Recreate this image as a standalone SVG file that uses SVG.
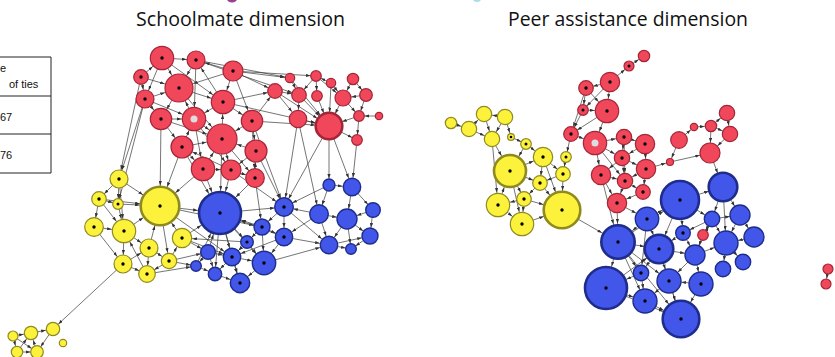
<svg xmlns="http://www.w3.org/2000/svg" width="835" height="357" viewBox="0 0 835 357">
<style>
.R{fill:#F1475B;stroke:#A52537;stroke-width:1.2}
.Y{fill:#FCF23C;stroke:#8F8A1E;stroke-width:1.2}
.B{fill:#4257E9;stroke:#1E2C8C;stroke-width:1.4}
.k{stroke-width:2.6}
.d{fill:#000}
.g{fill:#DDDDDD}
#edges line{stroke:#3a3a3a;stroke-width:0.7;fill:none}
.tab{stroke:#222;stroke-width:1}
.tt{font-family:"Liberation Sans",Arial,sans-serif;font-size:11px;fill:#111}
.ti{font-family:"Open Sans","Noto Sans",sans-serif;font-size:20px;fill:#111}
.m4{marker-end:url(#a4)}.m5{marker-end:url(#a5)}.m6{marker-end:url(#a6)}.m7{marker-end:url(#a7)}
.m8{marker-end:url(#a8)}.m9{marker-end:url(#a9)}.m10{marker-end:url(#a10)}.m11{marker-end:url(#a11)}
.m12{marker-end:url(#a12)}.m13{marker-end:url(#a13)}.m14{marker-end:url(#a14)}.m15{marker-end:url(#a15)}
.m16{marker-end:url(#a16)}.m17{marker-end:url(#a17)}.m18{marker-end:url(#a18)}.m19{marker-end:url(#a19)}.m21{marker-end:url(#a21)}
</style>
<defs>
<path id="ah" d="M0,0 L4.5,1.6 L0,3.2z" fill="#333"/>
<marker id="a4" markerUnits="userSpaceOnUse" markerWidth="5" markerHeight="3.2" refX="9" refY="1.6" orient="auto"><use href="#ah"/></marker>
<marker id="a5" markerUnits="userSpaceOnUse" markerWidth="5" markerHeight="3.2" refX="10" refY="1.6" orient="auto"><use href="#ah"/></marker>
<marker id="a6" markerUnits="userSpaceOnUse" markerWidth="5" markerHeight="3.2" refX="11" refY="1.6" orient="auto"><use href="#ah"/></marker>
<marker id="a7" markerUnits="userSpaceOnUse" markerWidth="5" markerHeight="3.2" refX="12" refY="1.6" orient="auto"><use href="#ah"/></marker>
<marker id="a8" markerUnits="userSpaceOnUse" markerWidth="5" markerHeight="3.2" refX="13" refY="1.6" orient="auto"><use href="#ah"/></marker>
<marker id="a9" markerUnits="userSpaceOnUse" markerWidth="5" markerHeight="3.2" refX="14" refY="1.6" orient="auto"><use href="#ah"/></marker>
<marker id="a10" markerUnits="userSpaceOnUse" markerWidth="5" markerHeight="3.2" refX="15" refY="1.6" orient="auto"><use href="#ah"/></marker>
<marker id="a11" markerUnits="userSpaceOnUse" markerWidth="5" markerHeight="3.2" refX="16" refY="1.6" orient="auto"><use href="#ah"/></marker>
<marker id="a12" markerUnits="userSpaceOnUse" markerWidth="5" markerHeight="3.2" refX="17" refY="1.6" orient="auto"><use href="#ah"/></marker>
<marker id="a13" markerUnits="userSpaceOnUse" markerWidth="5" markerHeight="3.2" refX="18.5" refY="1.6" orient="auto"><use href="#ah"/></marker>
<marker id="a14" markerUnits="userSpaceOnUse" markerWidth="5" markerHeight="3.2" refX="19.5" refY="1.6" orient="auto"><use href="#ah"/></marker>
<marker id="a15" markerUnits="userSpaceOnUse" markerWidth="5" markerHeight="3.2" refX="20.5" refY="1.6" orient="auto"><use href="#ah"/></marker>
<marker id="a16" markerUnits="userSpaceOnUse" markerWidth="5" markerHeight="3.2" refX="22" refY="1.6" orient="auto"><use href="#ah"/></marker>
<marker id="a17" markerUnits="userSpaceOnUse" markerWidth="5" markerHeight="3.2" refX="23" refY="1.6" orient="auto"><use href="#ah"/></marker>
<marker id="a18" markerUnits="userSpaceOnUse" markerWidth="5" markerHeight="3.2" refX="24" refY="1.6" orient="auto"><use href="#ah"/></marker>
<marker id="a19" markerUnits="userSpaceOnUse" markerWidth="5" markerHeight="3.2" refX="25" refY="1.6" orient="auto"><use href="#ah"/></marker>
<marker id="a21" markerUnits="userSpaceOnUse" markerWidth="5" markerHeight="3.2" refX="27" refY="1.6" orient="auto"><use href="#ah"/></marker>
</defs>
<rect width="835" height="357" fill="#fff"/>
<ellipse cx="232" cy="-1" rx="5" ry="3.5" fill="#9A3E96"/>
<ellipse cx="477" cy="-1" rx="4" ry="3" fill="#A8DCEA"/>
<text class="ti" x="136" y="26" textLength="209" lengthAdjust="spacingAndGlyphs">Schoolmate dimension</text>
<text class="ti" x="508" y="26" textLength="240" lengthAdjust="spacingAndGlyphs">Peer assistance dimension</text>
<g id="table">
<line class="tab" x1="0" y1="57" x2="51" y2="57"/>
<line class="tab" x1="0" y1="96" x2="51" y2="96"/>
<line class="tab" x1="0" y1="134" x2="51" y2="134"/>
<line class="tab" x1="0" y1="173" x2="51" y2="173"/>
<line class="tab" x1="51" y1="57" x2="51" y2="173"/>
<text class="tt" x="0" y="72">e</text>
<text class="tt" x="9" y="88">of ties</text>
<text class="tt" x="0" y="121">67</text>
<text class="tt" x="0" y="159">76</text>
</g>
<g id="edges">
<line class="m9" x1="162" y1="58" x2="196" y2="60"/>
<line class="m12" x1="141" y1="77" x2="162" y2="58"/>
<line class="m14" x1="162" y1="58" x2="179" y2="88"/>
<line class="m14" x1="196" y1="60" x2="179" y2="88"/>
<line class="m9" x1="233" y1="71" x2="196" y2="60"/>
<line class="m14" x1="233" y1="71" x2="179" y2="88"/>
<line class="m14" x1="141" y1="77" x2="179" y2="88"/>
<line class="m9" x1="141" y1="77" x2="145" y2="99"/>
<line class="m14" x1="145" y1="99" x2="179" y2="88"/>
<line class="m11" x1="145" y1="99" x2="161" y2="119"/>
<line class="m11" x1="179" y1="88" x2="161" y2="119"/>
<line class="m14" x1="194" y1="119" x2="179" y2="88"/>
<line class="m12" x1="179" y1="88" x2="223" y2="102"/>
<line class="m12" x1="233" y1="71" x2="223" y2="102"/>
<line class="m9" x1="223" y1="102" x2="196" y2="60"/>
<line class="m12" x1="223" y1="102" x2="194" y2="119"/>
<line class="m12" x1="222" y1="139" x2="223" y2="102"/>
<line class="m12" x1="161" y1="119" x2="194" y2="119"/>
<line class="m11" x1="161" y1="119" x2="182" y2="147"/>
<line class="m15" x1="194" y1="119" x2="222" y2="139"/>
<line class="m12" x1="182" y1="147" x2="194" y2="119"/>
<line class="m15" x1="182" y1="147" x2="222" y2="139"/>
<line class="m12" x1="182" y1="147" x2="203" y2="169"/>
<line class="m15" x1="203" y1="169" x2="222" y2="139"/>
<line class="m10" x1="222" y1="139" x2="231" y2="170"/>
<line class="m15" x1="256" y1="151" x2="222" y2="139"/>
<line class="m15" x1="252" y1="121" x2="222" y2="139"/>
<line class="m11" x1="223" y1="102" x2="252" y2="121"/>
<line class="m11" x1="252" y1="121" x2="256" y2="151"/>
<line class="m11" x1="255" y1="178" x2="256" y2="151"/>
<line class="m9" x1="231" y1="170" x2="255" y2="178"/>
<line class="m10" x1="203" y1="169" x2="231" y2="170"/>
<line class="m9" x1="222" y1="139" x2="255" y2="178"/>
<line class="m12" x1="194" y1="119" x2="203" y2="169"/>
<line class="m15" x1="161" y1="119" x2="222" y2="139"/>
<line class="m11" x1="231" y1="170" x2="182" y2="147"/>
<line class="m15" x1="179" y1="88" x2="222" y2="139"/>
<line class="m11" x1="233" y1="71" x2="252" y2="121"/>
<line class="m12" x1="162" y1="58" x2="223" y2="102"/>
<line class="m12" x1="196" y1="60" x2="194" y2="119"/>
<line class="m10" x1="256" y1="151" x2="231" y2="170"/>
<line class="m10" x1="194" y1="119" x2="231" y2="170"/>
<line class="m9" x1="252" y1="121" x2="255" y2="178"/>
<line class="m12" x1="145" y1="99" x2="194" y2="119"/>
<line class="m9" x1="162" y1="58" x2="145" y2="99"/>
<line class="m5" x1="233" y1="71" x2="290" y2="78"/>
<line class="m5" x1="233" y1="71" x2="316" y2="76"/>
<line class="m7" x1="196" y1="60" x2="299" y2="95"/>
<line class="m7" x1="223" y1="102" x2="275" y2="91"/>
<line class="m7" x1="252" y1="121" x2="275" y2="91"/>
<line class="m13" x1="223" y1="102" x2="329" y2="126"/>
<line class="m13" x1="252" y1="121" x2="329" y2="126"/>
<line class="m13" x1="275" y1="91" x2="329" y2="126"/>
<line class="m7" x1="275" y1="91" x2="299" y2="95"/>
<line class="m9" x1="275" y1="91" x2="298" y2="119"/>
<line class="m7" x1="290" y1="78" x2="299" y2="95"/>
<line class="m7" x1="316" y1="76" x2="299" y2="95"/>
<line class="m5" x1="316" y1="76" x2="317" y2="96"/>
<line class="m5" x1="331" y1="83" x2="316" y2="76"/>
<line class="m8" x1="331" y1="83" x2="343" y2="98"/>
<line class="m8" x1="353" y1="79" x2="343" y2="98"/>
<line class="m6" x1="353" y1="79" x2="366" y2="95"/>
<line class="m8" x1="366" y1="95" x2="343" y2="98"/>
<line class="m13" x1="299" y1="95" x2="329" y2="126"/>
<line class="m13" x1="317" y1="96" x2="329" y2="126"/>
<line class="m13" x1="343" y1="98" x2="329" y2="126"/>
<line class="m13" x1="298" y1="119" x2="329" y2="126"/>
<line class="m5" x1="366" y1="95" x2="359" y2="116"/>
<line class="m13" x1="359" y1="116" x2="329" y2="126"/>
<line class="m5" x1="379" y1="116" x2="359" y2="116"/>
<line class="m5" x1="359" y1="116" x2="357" y2="140"/>
<line class="m5" x1="329" y1="126" x2="357" y2="140"/>
<line class="m13" x1="290" y1="78" x2="329" y2="126"/>
<line class="m13" x1="331" y1="83" x2="329" y2="126"/>
<line class="m9" x1="299" y1="95" x2="298" y2="119"/>
<line class="m5" x1="343" y1="98" x2="359" y2="116"/>
<line class="m8" x1="316" y1="76" x2="343" y2="98"/>
<line class="m7" x1="233" y1="71" x2="275" y2="91"/>
<line class="m5" x1="196" y1="60" x2="290" y2="78"/>
<line class="m6" x1="329" y1="126" x2="329" y2="185"/>
<line class="m9" x1="357" y1="140" x2="352" y2="187"/>
<line class="m9" x1="329" y1="126" x2="352" y2="187"/>
<line class="m9" x1="298" y1="119" x2="284" y2="207"/>
<line class="m9" x1="329" y1="126" x2="284" y2="207"/>
<line class="m9" x1="298" y1="119" x2="319" y2="214"/>
<line class="m9" x1="141" y1="77" x2="119" y2="179"/>
<line class="m9" x1="145" y1="99" x2="119" y2="179"/>
<line class="m19" x1="161" y1="119" x2="160" y2="206"/>
<line class="m19" x1="182" y1="147" x2="160" y2="206"/>
<line class="m5" x1="145" y1="99" x2="118" y2="204"/>
<line class="m21" x1="203" y1="169" x2="220" y2="213"/>
<line class="m21" x1="231" y1="170" x2="220" y2="213"/>
<line class="m21" x1="255" y1="178" x2="220" y2="213"/>
<line class="m21" x1="222" y1="139" x2="220" y2="213"/>
<line class="m9" x1="256" y1="151" x2="284" y2="207"/>
<line class="m8" x1="255" y1="178" x2="262" y2="227"/>
<line class="m9" x1="231" y1="170" x2="284" y2="207"/>
<line class="m9" x1="252" y1="121" x2="284" y2="207"/>
<line class="m21" x1="182" y1="147" x2="220" y2="213"/>
<line class="m19" x1="203" y1="169" x2="160" y2="206"/>
<line class="m7" x1="119" y1="179" x2="99" y2="199"/>
<line class="m5" x1="119" y1="179" x2="118" y2="204"/>
<line class="m19" x1="119" y1="179" x2="160" y2="206"/>
<line class="m5" x1="99" y1="199" x2="118" y2="204"/>
<line class="m9" x1="99" y1="199" x2="94" y2="227"/>
<line class="m12" x1="99" y1="199" x2="124" y2="231"/>
<line class="m12" x1="118" y1="204" x2="124" y2="231"/>
<line class="m19" x1="118" y1="204" x2="160" y2="206"/>
<line class="m12" x1="94" y1="227" x2="124" y2="231"/>
<line class="m9" x1="94" y1="227" x2="123" y2="264"/>
<line class="m19" x1="124" y1="231" x2="160" y2="206"/>
<line class="m9" x1="124" y1="231" x2="149" y2="248"/>
<line class="m9" x1="124" y1="231" x2="123" y2="264"/>
<line class="m12" x1="147" y1="274" x2="124" y2="231"/>
<line class="m19" x1="149" y1="248" x2="160" y2="206"/>
<line class="m8" x1="149" y1="248" x2="169" y2="261"/>
<line class="m8" x1="149" y1="248" x2="147" y2="274"/>
<line class="m10" x1="169" y1="261" x2="182" y2="238"/>
<line class="m19" x1="182" y1="238" x2="160" y2="206"/>
<line class="m8" x1="123" y1="264" x2="147" y2="274"/>
<line class="m8" x1="169" y1="261" x2="147" y2="274"/>
<line class="m8" x1="160" y1="206" x2="169" y2="261"/>
<line class="m9" x1="123" y1="264" x2="149" y2="248"/>
<line class="m19" x1="99" y1="199" x2="160" y2="206"/>
<line class="m12" x1="119" y1="179" x2="124" y2="231"/>
<line class="m7" x1="123" y1="264" x2="53" y2="329"/>
<line class="m21" x1="160" y1="206" x2="220" y2="213"/>
<line class="m21" x1="182" y1="238" x2="220" y2="213"/>
<line class="m7" x1="182" y1="238" x2="208" y2="252"/>
<line class="m5" x1="169" y1="261" x2="196" y2="266"/>
<line class="m10" x1="247" y1="242" x2="182" y2="238"/>
<line class="m8" x1="160" y1="206" x2="262" y2="227"/>
<line class="m5" x1="147" y1="274" x2="196" y2="266"/>
<line class="m9" x1="160" y1="206" x2="232" y2="257"/>
<line class="m7" x1="169" y1="261" x2="208" y2="252"/>
<line class="m9" x1="182" y1="238" x2="232" y2="257"/>
<line class="m9" x1="220" y1="213" x2="284" y2="207"/>
<line class="m21" x1="262" y1="227" x2="220" y2="213"/>
<line class="m6" x1="220" y1="213" x2="247" y2="242"/>
<line class="m21" x1="208" y1="252" x2="220" y2="213"/>
<line class="m9" x1="220" y1="213" x2="232" y2="257"/>
<line class="m21" x1="284" y1="237" x2="220" y2="213"/>
<line class="m12" x1="220" y1="213" x2="264" y2="263"/>
<line class="m21" x1="196" y1="266" x2="220" y2="213"/>
<line class="m7" x1="220" y1="213" x2="215" y2="274"/>
<line class="m10" x1="220" y1="213" x2="240" y2="283"/>
<line class="m8" x1="284" y1="207" x2="262" y2="227"/>
<line class="m9" x1="284" y1="207" x2="284" y2="237"/>
<line class="m9" x1="319" y1="214" x2="284" y2="207"/>
<line class="m9" x1="329" y1="185" x2="284" y2="207"/>
<line class="m9" x1="262" y1="227" x2="284" y2="237"/>
<line class="m6" x1="262" y1="227" x2="247" y2="242"/>
<line class="m12" x1="284" y1="237" x2="264" y2="263"/>
<line class="m9" x1="247" y1="242" x2="232" y2="257"/>
<line class="m12" x1="232" y1="257" x2="264" y2="263"/>
<line class="m10" x1="232" y1="257" x2="240" y2="283"/>
<line class="m5" x1="208" y1="252" x2="196" y2="266"/>
<line class="m9" x1="208" y1="252" x2="232" y2="257"/>
<line class="m7" x1="196" y1="266" x2="215" y2="274"/>
<line class="m10" x1="215" y1="274" x2="240" y2="283"/>
<line class="m10" x1="264" y1="263" x2="240" y2="283"/>
<line class="m9" x1="284" y1="237" x2="232" y2="257"/>
<line class="m9" x1="284" y1="237" x2="329" y2="245"/>
<line class="m10" x1="319" y1="214" x2="347" y2="219"/>
<line class="m9" x1="319" y1="214" x2="329" y2="245"/>
<line class="m9" x1="329" y1="185" x2="352" y2="187"/>
<line class="m9" x1="329" y1="185" x2="319" y2="214"/>
<line class="m10" x1="352" y1="187" x2="347" y2="219"/>
<line class="m7" x1="352" y1="187" x2="373" y2="210"/>
<line class="m10" x1="373" y1="210" x2="347" y2="219"/>
<line class="m9" x1="347" y1="219" x2="329" y2="245"/>
<line class="m8" x1="347" y1="219" x2="370" y2="236"/>
<line class="m5" x1="347" y1="219" x2="351" y2="249"/>
<line class="m8" x1="373" y1="210" x2="370" y2="236"/>
<line class="m5" x1="329" y1="245" x2="351" y2="249"/>
<line class="m5" x1="370" y1="236" x2="351" y2="249"/>
<line class="m9" x1="319" y1="214" x2="284" y2="237"/>
<line class="m9" x1="284" y1="207" x2="329" y2="245"/>
<line class="m9" x1="264" y1="263" x2="329" y2="245"/>
<line class="m7" x1="232" y1="257" x2="215" y2="274"/>
<line class="m7" x1="208" y1="252" x2="215" y2="274"/>
<line class="m12" x1="247" y1="242" x2="264" y2="263"/>
<line class="m12" x1="262" y1="227" x2="264" y2="263"/>
<line class="m8" x1="329" y1="245" x2="370" y2="236"/>
<line class="m9" x1="262" y1="227" x2="232" y2="257"/>
<line class="m7" x1="31" y1="333" x2="53" y2="329"/>
<line class="m7" x1="13" y1="336" x2="31" y2="333"/>
<line class="m7" x1="17" y1="352" x2="31" y2="333"/>
<line class="m7" x1="37" y1="352" x2="31" y2="333"/>
<line class="m6" x1="53" y1="329" x2="37" y2="352"/>
<line class="m6" x1="13" y1="336" x2="37" y2="352"/>
<line class="m6" x1="17" y1="352" x2="37" y2="352"/>
<line class="m6" x1="13" y1="336" x2="17" y2="352"/>
<line class="m8" x1="451" y1="123" x2="469" y2="129"/>
<line class="m8" x1="469" y1="129" x2="484" y2="114"/>
<line class="m8" x1="505" y1="117" x2="484" y2="114"/>
<line class="m8" x1="469" y1="129" x2="492" y2="139"/>
<line class="m8" x1="484" y1="114" x2="492" y2="139"/>
<line class="m8" x1="505" y1="117" x2="492" y2="139"/>
<line class="m16" x1="492" y1="139" x2="510" y2="171"/>
<line class="m5" x1="511" y1="137" x2="526" y2="144"/>
<line class="m16" x1="526" y1="144" x2="510" y2="171"/>
<line class="m10" x1="526" y1="144" x2="543" y2="157"/>
<line class="m16" x1="498" y1="205" x2="510" y2="171"/>
<line class="m7" x1="510" y1="171" x2="524" y2="199"/>
<line class="m12" x1="510" y1="171" x2="522" y2="224"/>
<line class="m7" x1="543" y1="157" x2="540" y2="183"/>
<line class="m18" x1="543" y1="157" x2="562" y2="210"/>
<line class="m7" x1="543" y1="157" x2="563" y2="174"/>
<line class="m7" x1="566" y1="157" x2="563" y2="174"/>
<line class="m18" x1="563" y1="174" x2="562" y2="210"/>
<line class="m18" x1="540" y1="183" x2="562" y2="210"/>
<line class="m7" x1="540" y1="183" x2="524" y2="199"/>
<line class="m12" x1="524" y1="199" x2="498" y2="205"/>
<line class="m12" x1="524" y1="199" x2="522" y2="224"/>
<line class="m12" x1="498" y1="205" x2="522" y2="224"/>
<line class="m18" x1="522" y1="224" x2="562" y2="210"/>
<line class="m7" x1="510" y1="171" x2="540" y2="183"/>
<line class="m7" x1="563" y1="174" x2="540" y2="183"/>
<line class="m10" x1="510" y1="171" x2="543" y2="157"/>
<line class="m12" x1="492" y1="139" x2="498" y2="205"/>
<line class="m17" x1="562" y1="210" x2="618" y2="242"/>
<line class="m18" x1="524" y1="199" x2="562" y2="210"/>
<line class="m4" x1="505" y1="117" x2="511" y2="137"/>
<line class="m6" x1="629" y1="66" x2="644" y2="56"/>
<line class="m5" x1="610" y1="82" x2="629" y2="66"/>
<line class="m7" x1="610" y1="82" x2="586" y2="88"/>
<line class="m12" x1="610" y1="82" x2="607" y2="111"/>
<line class="m5" x1="586" y1="88" x2="583" y2="110"/>
<line class="m12" x1="586" y1="88" x2="607" y2="111"/>
<line class="m12" x1="583" y1="110" x2="607" y2="111"/>
<line class="m7" x1="583" y1="110" x2="571" y2="134"/>
<line class="m7" x1="586" y1="88" x2="571" y2="134"/>
<line class="m7" x1="607" y1="111" x2="571" y2="134"/>
<line class="m12" x1="571" y1="134" x2="595" y2="143"/>
<line class="m8" x1="595" y1="143" x2="622" y2="158"/>
<line class="m10" x1="595" y1="143" x2="601" y2="175"/>
<line class="m8" x1="624" y1="137" x2="622" y2="158"/>
<line class="m10" x1="624" y1="137" x2="645" y2="144"/>
<line class="m8" x1="645" y1="144" x2="622" y2="158"/>
<line class="m10" x1="622" y1="158" x2="646" y2="169"/>
<line class="m10" x1="622" y1="158" x2="601" y2="175"/>
<line class="m8" x1="622" y1="158" x2="625" y2="181"/>
<line class="m8" x1="646" y1="169" x2="625" y2="181"/>
<line class="m8" x1="601" y1="175" x2="625" y2="181"/>
<line class="m7" x1="625" y1="181" x2="643" y2="192"/>
<line class="m10" x1="601" y1="175" x2="617" y2="203"/>
<line class="m10" x1="625" y1="181" x2="617" y2="203"/>
<line class="m7" x1="646" y1="169" x2="643" y2="192"/>
<line class="m10" x1="643" y1="192" x2="617" y2="203"/>
<line class="m8" x1="595" y1="143" x2="625" y2="181"/>
<line class="m8" x1="624" y1="137" x2="625" y2="181"/>
<line class="m10" x1="645" y1="144" x2="646" y2="169"/>
<line class="m17" x1="617" y1="203" x2="618" y2="242"/>
<line class="m17" x1="601" y1="175" x2="618" y2="242"/>
<line class="m4" x1="646" y1="169" x2="670" y2="162"/>
<line class="m10" x1="670" y1="162" x2="710" y2="153"/>
<line class="m4" x1="679" y1="140" x2="670" y2="162"/>
<line class="m4" x1="679" y1="140" x2="694" y2="127"/>
<line class="m6" x1="694" y1="127" x2="711" y2="126"/>
<line class="m8" x1="711" y1="126" x2="727" y2="113"/>
<line class="m8" x1="711" y1="126" x2="730" y2="134"/>
<line class="m8" x1="727" y1="113" x2="730" y2="134"/>
<line class="m10" x1="730" y1="134" x2="710" y2="153"/>
<line class="m10" x1="711" y1="126" x2="710" y2="153"/>
<line class="m14" x1="710" y1="153" x2="723" y2="187"/>
<line class="m5" x1="828" y1="269" x2="826" y2="284"/>
<line class="m5" x1="571" y1="134" x2="566" y2="157"/>
<line class="m8" x1="595" y1="143" x2="624" y2="137"/>
<line class="m12" x1="617" y1="203" x2="647" y2="219"/>
<line class="m12" x1="607" y1="111" x2="595" y2="143"/>
<line class="m5" x1="610" y1="82" x2="583" y2="110"/>
<line class="m14" x1="680" y1="200" x2="723" y2="187"/>
<line class="m19" x1="647" y1="219" x2="680" y2="200"/>
<line class="m8" x1="680" y1="200" x2="712" y2="219"/>
<line class="m7" x1="680" y1="200" x2="683" y2="233"/>
<line class="m14" x1="680" y1="200" x2="659" y2="249"/>
<line class="m19" x1="618" y1="242" x2="680" y2="200"/>
<line class="m8" x1="723" y1="187" x2="712" y2="219"/>
<line class="m10" x1="723" y1="187" x2="740" y2="215"/>
<line class="m10" x1="712" y1="219" x2="740" y2="215"/>
<line class="m7" x1="712" y1="219" x2="683" y2="233"/>
<line class="m12" x1="712" y1="219" x2="726" y2="243"/>
<line class="m10" x1="740" y1="215" x2="754" y2="237"/>
<line class="m12" x1="740" y1="215" x2="726" y2="243"/>
<line class="m12" x1="754" y1="237" x2="726" y2="243"/>
<line class="m14" x1="683" y1="233" x2="659" y2="249"/>
<line class="m10" x1="683" y1="233" x2="695" y2="255"/>
<line class="m17" x1="647" y1="219" x2="618" y2="242"/>
<line class="m14" x1="647" y1="219" x2="659" y2="249"/>
<line class="m14" x1="618" y1="242" x2="659" y2="249"/>
<line class="m21" x1="618" y1="242" x2="606" y2="288"/>
<line class="m8" x1="618" y1="242" x2="641" y2="273"/>
<line class="m12" x1="618" y1="242" x2="645" y2="301"/>
<line class="m12" x1="618" y1="242" x2="669" y2="281"/>
<line class="m10" x1="659" y1="249" x2="695" y2="255"/>
<line class="m8" x1="659" y1="249" x2="641" y2="273"/>
<line class="m12" x1="659" y1="249" x2="669" y2="281"/>
<line class="m12" x1="695" y1="255" x2="669" y2="281"/>
<line class="m12" x1="695" y1="255" x2="701" y2="284"/>
<line class="m12" x1="695" y1="255" x2="726" y2="243"/>
<line class="m8" x1="726" y1="243" x2="743" y2="262"/>
<line class="m8" x1="726" y1="243" x2="723" y2="269"/>
<line class="m21" x1="641" y1="273" x2="606" y2="288"/>
<line class="m12" x1="641" y1="273" x2="645" y2="301"/>
<line class="m12" x1="669" y1="281" x2="645" y2="301"/>
<line class="m18" x1="669" y1="281" x2="681" y2="319"/>
<line class="m18" x1="701" y1="284" x2="681" y2="319"/>
<line class="m12" x1="606" y1="288" x2="645" y2="301"/>
<line class="m18" x1="645" y1="301" x2="681" y2="319"/>
<line class="m18" x1="606" y1="288" x2="681" y2="319"/>
<line class="m5" x1="712" y1="219" x2="703" y2="235"/>
<line class="m10" x1="703" y1="235" x2="695" y2="255"/>
<line class="m8" x1="647" y1="219" x2="641" y2="273"/>
<line class="m18" x1="618" y1="242" x2="681" y2="319"/>
<line class="m14" x1="606" y1="288" x2="659" y2="249"/>
<line class="m12" x1="701" y1="284" x2="669" y2="281"/>
<line class="m18" x1="659" y1="249" x2="681" y2="319"/>
<line class="m12" x1="723" y1="187" x2="726" y2="243"/>
<line class="m8" x1="695" y1="255" x2="712" y2="219"/>
</g>
<g id="s1"><circle class="R" cx="162" cy="58" r="11.7"/><circle class="d" cx="162" cy="58" r="1.7"/></g>
<g id="s2"><circle class="R" cx="196" cy="60" r="9"/><circle class="d" cx="196" cy="60" r="1.7"/></g>
<g id="s3"><circle class="R" cx="233" cy="71" r="10"/><circle class="d" cx="233" cy="71" r="1.7"/></g>
<g id="s4"><circle class="R" cx="141" cy="77" r="7.3"/><circle class="d" cx="141" cy="77" r="1.7"/></g>
<g id="s5"><circle class="R" cx="179" cy="88" r="14"/><circle class="d" cx="179" cy="88" r="1.7"/></g>
<g id="s6"><circle class="R" cx="275" cy="91" r="7.3"/></g>
<g id="s7"><circle class="R" cx="145" cy="99" r="9"/><circle class="d" cx="145" cy="99" r="1.7"/></g>
<g id="s8"><circle class="R" cx="223" cy="102" r="11.7"/><circle class="d" cx="223" cy="102" r="1.7"/></g>
<g id="s9"><circle class="R" cx="161" cy="119" r="10.7"/><circle class="d" cx="161" cy="119" r="1.7"/></g>
<g id="s10"><circle class="R" cx="194" cy="119" r="11.7"/><circle class="g" cx="194" cy="119" r="3.5"/></g>
<g id="s11"><circle class="R" cx="252" cy="121" r="10.7"/><circle class="d" cx="252" cy="121" r="1.7"/></g>
<g id="s12"><circle class="R" cx="182" cy="147" r="11"/><circle class="d" cx="182" cy="147" r="1.7"/></g>
<g id="s13"><circle class="R" cx="222" cy="139" r="15"/><circle class="d" cx="222" cy="139" r="1.7"/></g>
<g id="s14"><circle class="R" cx="256" cy="151" r="11"/><circle class="d" cx="256" cy="151" r="1.7"/></g>
<g id="s15"><circle class="R" cx="203" cy="169" r="11.7"/><circle class="d" cx="203" cy="169" r="1.7"/></g>
<g id="s16"><circle class="R" cx="231" cy="170" r="10"/><circle class="d" cx="231" cy="170" r="1.7"/></g>
<g id="s17"><circle class="R" cx="255" cy="178" r="9.3"/><circle class="d" cx="255" cy="178" r="1.7"/></g>
<g id="s18"><circle class="R" cx="290" cy="78" r="4.7"/></g>
<g id="s19"><circle class="R" cx="316" cy="76" r="5.3"/></g>
<g id="s20"><circle class="R" cx="331" cy="83" r="4.7"/></g>
<g id="s21"><circle class="R" cx="353" cy="79" r="5.7"/></g>
<g id="s22"><circle class="R" cx="299" cy="95" r="7.3"/></g>
<g id="s23"><circle class="R" cx="317" cy="96" r="5.3"/></g>
<g id="s24"><circle class="R" cx="343" cy="98" r="8"/></g>
<g id="s25"><circle class="R" cx="366" cy="95" r="6.3"/></g>
<g id="s26"><circle class="R" cx="298" cy="119" r="8.7"/></g>
<g id="s27"><circle class="R k" cx="329" cy="126" r="13.3"/></g>
<g id="s28"><circle class="R" cx="359" cy="116" r="5.3"/></g>
<g id="s29"><circle class="R" cx="379" cy="116" r="3.7"/></g>
<g id="s30"><circle class="R" cx="357" cy="140" r="5.3"/></g>
<g id="y1"><circle class="Y" cx="119" cy="179" r="9"/><circle class="d" cx="119" cy="179" r="1.7"/></g>
<g id="y2"><circle class="Y" cx="99" cy="199" r="7.3"/><circle class="d" cx="99" cy="199" r="1.7"/></g>
<g id="y3"><circle class="Y" cx="118" cy="204" r="5.3"/><circle class="d" cx="118" cy="204" r="1.5"/></g>
<g id="y4"><circle class="Y k" cx="160" cy="206" r="19.3"/><circle class="d" cx="160" cy="206" r="1.7"/></g>
<g id="y5"><circle class="Y" cx="94" cy="227" r="9.3"/><circle class="d" cx="94" cy="227" r="1.7"/></g>
<g id="y6"><circle class="Y" cx="124" cy="231" r="11.7"/><circle class="d" cx="124" cy="231" r="1.7"/></g>
<g id="y7"><circle class="Y" cx="182" cy="238" r="9.7"/><circle class="d" cx="182" cy="238" r="1.7"/></g>
<g id="y8"><circle class="Y" cx="149" cy="248" r="9"/><circle class="d" cx="149" cy="248" r="1.7"/></g>
<g id="y9"><circle class="Y" cx="169" cy="261" r="7.7"/><circle class="d" cx="169" cy="261" r="1.7"/></g>
<g id="y10"><circle class="Y" cx="123" cy="264" r="9"/><circle class="d" cx="123" cy="264" r="1.7"/></g>
<g id="y11"><circle class="Y" cx="147" cy="274" r="8.3"/><circle class="d" cx="147" cy="274" r="1.7"/></g>
<g id="y12"><circle class="Y" cx="53" cy="329" r="6.7"/></g>
<g id="y13"><circle class="Y" cx="31" cy="333" r="6.7"/></g>
<g id="y14"><circle class="Y" cx="13" cy="336" r="5"/></g>
<g id="y15"><circle class="Y" cx="63" cy="343" r="3.7"/></g>
<g id="y16"><circle class="Y" cx="17" cy="352" r="5.7"/></g>
<g id="y17"><circle class="Y" cx="37" cy="352" r="6.3"/></g>
<g id="b1"><circle class="B k" cx="220" cy="213" r="21"/><circle class="d" cx="220" cy="213" r="1.7"/></g>
<g id="b2"><circle class="B" cx="284" cy="207" r="9.3"/><circle class="d" cx="284" cy="207" r="1.7"/></g>
<g id="b3"><circle class="B" cx="329" cy="185" r="6"/></g>
<g id="b4"><circle class="B" cx="352" cy="187" r="8.7"/></g>
<g id="b5"><circle class="B" cx="319" cy="214" r="9.3"/></g>
<g id="b6"><circle class="B" cx="347" cy="219" r="10"/></g>
<g id="b7"><circle class="B" cx="373" cy="210" r="7.3"/></g>
<g id="b8"><circle class="B" cx="262" cy="227" r="8"/><circle class="d" cx="262" cy="227" r="1.7"/></g>
<g id="b9"><circle class="B" cx="284" cy="237" r="8.7"/><circle class="d" cx="284" cy="237" r="1.7"/></g>
<g id="b10"><circle class="B" cx="247" cy="242" r="6.3"/><circle class="d" cx="247" cy="242" r="1.6"/></g>
<g id="b11"><circle class="B" cx="208" cy="252" r="7.3"/></g>
<g id="b12"><circle class="B" cx="232" cy="257" r="8.7"/><circle class="d" cx="232" cy="257" r="1.7"/></g>
<g id="b13"><circle class="B" cx="264" cy="263" r="11.7"/><circle class="d" cx="264" cy="263" r="1.7"/></g>
<g id="b14"><circle class="B" cx="329" cy="245" r="8.7"/></g>
<g id="b15"><circle class="B" cx="370" cy="236" r="8"/></g>
<g id="b16"><circle class="B" cx="351" cy="249" r="5.3"/></g>
<g id="b17"><circle class="B" cx="196" cy="266" r="5.3"/></g>
<g id="b18"><circle class="B" cx="215" cy="274" r="6.7"/></g>
<g id="b19"><circle class="B" cx="240" cy="283" r="9.7"/><circle class="d" cx="240" cy="283" r="1.7"/></g>
<g id="py1"><circle class="Y" cx="451" cy="123" r="5.7"/></g>
<g id="py2"><circle class="Y" cx="469" cy="129" r="7.7"/></g>
<g id="py3"><circle class="Y" cx="484" cy="114" r="7.7"/></g>
<g id="py4"><circle class="Y" cx="505" cy="117" r="7.7"/></g>
<g id="py5"><circle class="Y" cx="492" cy="139" r="7.7"/></g>
<g id="py6"><circle class="Y" cx="511" cy="137" r="3.4"/><circle class="d" cx="511" cy="137" r="1.3"/></g>
<g id="py7"><circle class="Y" cx="526" cy="144" r="5.3"/><circle class="d" cx="526" cy="144" r="1.5"/></g>
<g id="py8"><circle class="Y k" cx="510" cy="171" r="16"/><circle class="d" cx="510" cy="171" r="1.7"/></g>
<g id="py9"><circle class="Y" cx="543" cy="157" r="9.7"/><circle class="d" cx="543" cy="157" r="1.7"/></g>
<g id="py10"><circle class="Y" cx="566" cy="157" r="5.3"/><circle class="d" cx="566" cy="157" r="1.5"/></g>
<g id="py11"><circle class="Y" cx="563" cy="174" r="7.3"/><circle class="d" cx="563" cy="174" r="1.7"/></g>
<g id="py12"><circle class="Y" cx="540" cy="183" r="7.3"/><circle class="d" cx="540" cy="183" r="1.7"/></g>
<g id="py13"><circle class="Y" cx="524" cy="199" r="7.3"/><circle class="d" cx="524" cy="199" r="1.7"/></g>
<g id="py14"><circle class="Y" cx="498" cy="205" r="11.7"/><circle class="d" cx="498" cy="205" r="1.7"/></g>
<g id="py15"><circle class="Y k" cx="562" cy="210" r="18.3"/><circle class="d" cx="562" cy="210" r="1.7"/></g>
<g id="py16"><circle class="Y" cx="522" cy="224" r="11.7"/><circle class="d" cx="522" cy="224" r="1.7"/></g>
<g id="pr1"><circle class="R" cx="644" cy="56" r="5.7"/></g>
<g id="pr2"><circle class="R" cx="629" cy="66" r="5"/><circle class="d" cx="629" cy="66" r="1.5"/></g>
<g id="pr3"><circle class="R" cx="610" cy="82" r="9.7"/><circle class="d" cx="610" cy="82" r="1.7"/></g>
<g id="pr4"><circle class="R" cx="586" cy="88" r="7.3"/><circle class="d" cx="586" cy="88" r="1.7"/></g>
<g id="pr5"><circle class="R" cx="583" cy="110" r="5.3"/><circle class="d" cx="583" cy="110" r="1.5"/></g>
<g id="pr6"><circle class="R" cx="607" cy="111" r="11.7"/><circle class="d" cx="607" cy="111" r="1.7"/></g>
<g id="pr7"><circle class="R" cx="571" cy="134" r="7.3"/><circle class="d" cx="571" cy="134" r="1.7"/></g>
<g id="pr8"><circle class="R" cx="595" cy="143" r="11.7"/><circle class="g" cx="595" cy="143" r="3.5"/></g>
<g id="pr9"><circle class="R" cx="624" cy="137" r="7.7"/><circle class="d" cx="624" cy="137" r="1.7"/></g>
<g id="pr10"><circle class="R" cx="645" cy="144" r="9.7"/><circle class="d" cx="645" cy="144" r="1.7"/></g>
<g id="pr11"><circle class="R" cx="622" cy="158" r="7.7"/><circle class="d" cx="622" cy="158" r="1.7"/></g>
<g id="pr12"><circle class="R" cx="646" cy="169" r="9.7"/><circle class="d" cx="646" cy="169" r="1.7"/></g>
<g id="pr13"><circle class="R" cx="601" cy="175" r="9.7"/><circle class="d" cx="601" cy="175" r="1.7"/></g>
<g id="pr14"><circle class="R" cx="625" cy="181" r="7.7"/><circle class="d" cx="625" cy="181" r="1.7"/></g>
<g id="pr15"><circle class="R" cx="643" cy="192" r="7.3"/><circle class="d" cx="643" cy="192" r="1.7"/></g>
<g id="pr16"><circle class="R" cx="617" cy="203" r="9.7"/><circle class="d" cx="617" cy="203" r="1.7"/></g>
<g id="pr17"><circle class="R" cx="670" cy="162" r="3.5"/></g>
<g id="pr18"><circle class="R" cx="679" cy="140" r="8.3"/></g>
<g id="pr19"><circle class="R" cx="694" cy="127" r="3.7"/></g>
<g id="pr20"><circle class="R" cx="711" cy="126" r="5.7"/></g>
<g id="pr21"><circle class="R" cx="727" cy="113" r="7.7"/></g>
<g id="pr22"><circle class="R" cx="730" cy="134" r="7.7"/></g>
<g id="pr23"><circle class="R" cx="710" cy="153" r="10"/></g>
<g id="pr24"><circle class="R" cx="703" cy="235" r="5.3"/></g>
<g id="pr25"><circle class="R" cx="828" cy="269" r="5"/></g>
<g id="pr26"><circle class="R" cx="826" cy="284" r="5"/></g>
<g id="pb1"><circle class="B k" cx="680" cy="200" r="19"/><circle class="d" cx="680" cy="200" r="1.7"/></g>
<g id="pb2"><circle class="B k" cx="723" cy="187" r="14.3"/></g>
<g id="pb3"><circle class="B" cx="647" cy="219" r="11.7"/><circle class="d" cx="647" cy="219" r="1.7"/></g>
<g id="pb4"><circle class="B" cx="712" cy="219" r="7.7"/></g>
<g id="pb5"><circle class="B" cx="740" cy="215" r="10"/></g>
<g id="pb6"><circle class="B" cx="683" cy="233" r="7.3"/><circle class="d" cx="683" cy="233" r="1.7"/></g>
<g id="pb7"><circle class="B" cx="754" cy="237" r="10"/></g>
<g id="pb8"><circle class="B k" cx="618" cy="242" r="16.7"/><circle class="d" cx="618" cy="242" r="1.7"/></g>
<g id="pb9"><circle class="B k" cx="659" cy="249" r="14.3"/><circle class="d" cx="659" cy="249" r="1.7"/></g>
<g id="pb10"><circle class="B" cx="695" cy="255" r="10"/></g>
<g id="pb11"><circle class="B" cx="726" cy="243" r="12"/></g>
<g id="pb12"><circle class="B" cx="743" cy="262" r="7.7"/></g>
<g id="pb13"><circle class="B" cx="723" cy="269" r="7.7"/></g>
<g id="pb14"><circle class="B" cx="641" cy="273" r="7.7"/><circle class="d" cx="641" cy="273" r="1.7"/></g>
<g id="pb15"><circle class="B" cx="669" cy="281" r="12"/><circle class="d" cx="669" cy="281" r="1.7"/></g>
<g id="pb16"><circle class="B" cx="701" cy="284" r="12"/><circle class="d" cx="701" cy="284" r="1.7"/></g>
<g id="pb17"><circle class="B k" cx="606" cy="288" r="21"/><circle class="d" cx="606" cy="288" r="1.7"/></g>
<g id="pb18"><circle class="B" cx="645" cy="301" r="12"/><circle class="d" cx="645" cy="301" r="1.7"/></g>
<g id="pb19"><circle class="B k" cx="681" cy="319" r="18.3"/><circle class="d" cx="681" cy="319" r="1.7"/></g>
</svg>
